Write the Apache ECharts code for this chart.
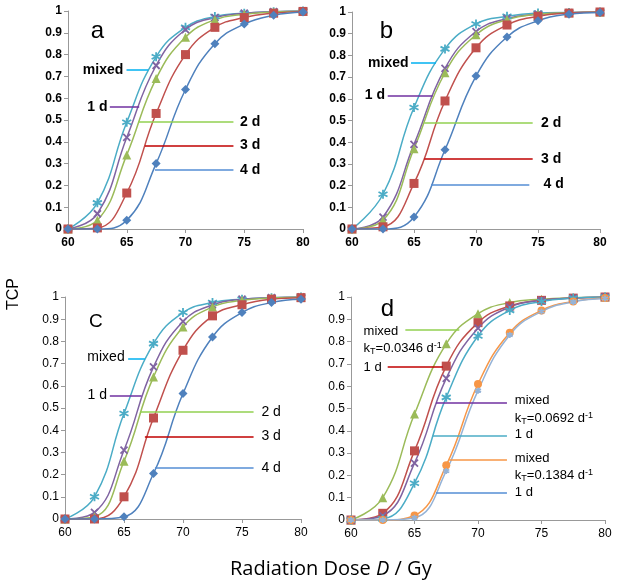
<!DOCTYPE html>
<html><head><meta charset="utf-8">
<script src="https://cdn.jsdelivr.net/npm/echarts@6/dist/echarts.min.js"></script>
<style>html,body{margin:0;padding:0;background:#fff}#c{width:626px;height:587px}</style>
</head><body><div id="c"></div>
<script>
const doses = [60, 62.5, 65, 67.5, 70, 72.5, 75, 77.5, 80];
const xTicks = [60, 65, 70, 75, 80];
const yTickLabels = ['0','0.1','0.2','0.3','0.4','0.5','0.6','0.7','0.8','0.9','1'];

// panel a
const aMixed = [0, 0.12, 0.49, 0.79, 0.925, 0.975, 0.99, 0.997, 1];
const a1d    = [0, 0.07, 0.42, 0.75, 0.915, 0.97, 0.99, 0.997, 1];
const a2d    = [0, 0.04, 0.34, 0.69, 0.88, 0.96, 0.985, 0.995, 1];
const a3d    = [0, 0.005, 0.165, 0.53, 0.80, 0.925, 0.97, 0.99, 0.998];
const a4d    = [0, 0, 0.04, 0.30, 0.64, 0.85, 0.94, 0.98, 0.995];
// panel b
const bMixed = [0, 0.16, 0.56, 0.83, 0.945, 0.98, 0.995, 0.998, 1];
const b1d    = [0, 0.055, 0.39, 0.74, 0.91, 0.97, 0.99, 0.997, 1];
const b2d    = [0, 0.04, 0.37, 0.72, 0.895, 0.965, 0.99, 0.997, 1];
const b3d    = [0, 0.01, 0.21, 0.59, 0.835, 0.94, 0.98, 0.995, 1];
const b4d    = [0, 0, 0.055, 0.365, 0.705, 0.885, 0.96, 0.99, 0.998];
// panel c
const cMixed = [0, 0.10, 0.475, 0.79, 0.93, 0.975, 0.99, 0.997, 1];
const c1d    = [0, 0.03, 0.31, 0.685, 0.89, 0.965, 0.99, 0.997, 1];
const c2d    = [0, 0.01, 0.26, 0.64, 0.865, 0.955, 0.985, 0.995, 1];
const c3d    = [0, 0, 0.10, 0.455, 0.76, 0.915, 0.965, 0.99, 0.997];
const c4d    = [0, 0, 0.01, 0.205, 0.565, 0.82, 0.93, 0.975, 0.99];
// panel d
const dMixedK1 = [0, 0.10, 0.475, 0.79, 0.925, 0.975, 0.99, 0.997, 1];
const d1dK1    = [0, 0.03, 0.31, 0.69, 0.885, 0.96, 0.985, 0.995, 1];
const dMixedK2 = [0, 0.02, 0.255, 0.635, 0.86, 0.955, 0.985, 0.995, 1];
const d1dK2    = [0, 0.005, 0.165, 0.55, 0.825, 0.94, 0.98, 0.995, 1];
const dMixedK3 = [0, 0, 0.02, 0.245, 0.61, 0.84, 0.94, 0.98, 0.995];
const d1dK3    = [0, 0, 0.01, 0.22, 0.58, 0.83, 0.935, 0.978, 0.993];

const FONT = 'Liberation Sans';
const STAR = 'path://M0,-1L0,1M-0.87,-0.5L0.87,0.5M0.87,-0.5L-0.87,0.5';
const XMARK = 'path://M-1,-1L1,1M1,-1L-1,1';

const grids = [
  {left: 68, top: 11, width: 235, height: 218},
  {left: 352, top: 12, width: 248, height: 217},
  {left: 65, top: 297, width: 236, height: 222},
  {left: 351, top: 297, width: 254, height: 223}
];

function mkSeries(gi, name, vals, color, symbol, size, stroke) {
  return {
    type: 'line', name, xAxisIndex: gi, yAxisIndex: gi,
    data: doses.map((x, i) => [x, vals[i]]),
    smooth: 0.45,
    symbol, symbolSize: size, showSymbol: true,
    lineStyle: {color, width: 1.5},
    itemStyle: stroke ? {color: 'rgba(0,0,0,0)', borderColor: color, borderWidth: 1.8} : {color},
    animation: false, z: 3
  };
}

function ann(gi, lines, texts) {
  return {
    type: 'line', xAxisIndex: gi, yAxisIndex: gi, data: [], silent: true, animation: false,
    markLine: {
      symbol: 'none', silent: true, animation: false, label: {show: false},
      data: lines.map(l => [{coord: [l[0], l[2]], lineStyle: {color: l[3], width: 1.5, type: 'solid'}}, {coord: [l[1], l[2]]}])
    },
    markPoint: {
      silent: true, animation: false, symbol: 'circle', symbolSize: 1,
      itemStyle: {color: 'rgba(0,0,0,0)'},
      data: texts.map(t => ({coord: [t[0], t[1]], label: Object.assign({
        show: true, position: t[3] || 'right', distance: 0, formatter: t[2],
        color: '#000', fontFamily: FONT
      }, t[4] || {})}))
    }
  };
}

const boldLbl = {fontSize: 14, fontWeight: 'bold'};
const letterLbl = {fontSize: 24, fontFamily: FONT};
const rich = {
  n: {fontSize: 13, fontFamily: FONT, color: '#000'},
  s: {fontSize: 9, fontFamily: FONT, color: '#000', padding: [6, 0, 0, 0]},
  p: {fontSize: 9, fontFamily: FONT, color: '#000', padding: [0, 0, 6, 0]}
};
const dLbl = {fontSize: 13};
function kt(v) { return '{n|k}{s|T}{n|=' + v + ' d}{p|-1}'; }

const xAxes = grids.map((g, i) => ({
  type: 'value', gridIndex: i, min: 60, max: 80, interval: 5,
  axisLine: {show: true, lineStyle: {color: '#999'}},
  axisTick: {show: true, inside: false, length: 4, lineStyle: {color: '#999'}},
  axisLabel: {color: '#000', fontSize: 12, fontFamily: FONT, fontWeight: i < 2 ? 'bold' : 'normal', margin: 8},
  splitLine: {show: false}
}));
const yAxes = grids.map((g, i) => ({
  type: 'value', gridIndex: i, min: 0, max: 1, interval: 0.1,
  axisLine: {show: true, lineStyle: {color: '#999'}},
  axisTick: {show: true, inside: false, length: 4, lineStyle: {color: '#999'}},
  axisLabel: {color: '#000', fontSize: 12, fontFamily: FONT, fontWeight: i < 2 ? 'bold' : 'normal', margin: 6,
    formatter: v => yTickLabels[Math.round(v * 10)]},
  splitLine: {show: false}
}));

const C = {blue: '#4F81BD', red: '#C0504D', green: '#9BBB59', purple: '#8064A2', aqua: '#4BACC6', orange: '#F79646', lblue: '#95B3D7'};
const L = {mixed: '#00B0F0', d1: '#7030A0', d2: '#92D050', d3: '#C00000', d4: '#558ED5'};

const series = [];
// panel a
series.push(mkSeries(0, 'mixed', aMixed, C.aqua, STAR, 9, true));
series.push(mkSeries(0, '1 d', a1d, C.purple, XMARK, 7, true));
series.push(mkSeries(0, '2 d', a2d, C.green, 'triangle', 9));
series.push(mkSeries(0, '3 d', a3d, C.red, 'rect', 9));
series.push(mkSeries(0, '4 d', a4d, C.blue, 'diamond', 9));
series.push(ann(0, [
  [64.98, 66.83, 0.729, L.mixed], [63.56, 66.06, 0.56, L.d1], [65.97, 74.08, 0.49, L.d2],
  [66.54, 74.08, 0.383, L.d3], [67.4, 74.08, 0.27, L.d4]
], [
  [64.75, 0.729, 'mixed', 'left', boldLbl], [63.4, 0.56, '1 d', 'left', boldLbl],
  [74.6, 0.49, '2 d', 'right', boldLbl], [74.6, 0.383, '3 d', 'right', boldLbl], [74.6, 0.27, '4 d', 'right', boldLbl],
  [61.9, 0.905, 'a', 'right', letterLbl]
]));
// panel b
series.push(mkSeries(1, 'mixed', bMixed, C.aqua, STAR, 9, true));
series.push(mkSeries(1, '1 d', b1d, C.purple, XMARK, 7, true));
series.push(mkSeries(1, '2 d', b2d, C.green, 'triangle', 9));
series.push(mkSeries(1, '3 d', b3d, C.red, 'rect', 9));
series.push(mkSeries(1, '4 d', b4d, C.blue, 'diamond', 9));
series.push(ann(1, [
  [64.76, 66.77, 0.765, L.mixed], [62.88, 66.5, 0.616, L.d1], [65.83, 74.57, 0.488, L.d2],
  [65.83, 74.57, 0.323, L.d3], [66.37, 74.3, 0.206, L.d4]
], [
  [64.6, 0.765, 'mixed', 'left', boldLbl], [62.7, 0.616, '1 d', 'left', boldLbl],
  [75.2, 0.488, '2 d', 'right', boldLbl], [75.2, 0.323, '3 d', 'right', boldLbl], [75.4, 0.206, '4 d', 'right', boldLbl],
  [62.2, 0.91, 'b', 'right', letterLbl]
]));
// panel c
series.push(mkSeries(2, 'mixed', cMixed, C.aqua, STAR, 9, true));
series.push(mkSeries(2, '1 d', c1d, C.purple, XMARK, 7, true));
series.push(mkSeries(2, '2 d', c2d, C.green, 'triangle', 9));
series.push(mkSeries(2, '3 d', c3d, C.red, 'rect', 9));
series.push(mkSeries(2, '4 d', c4d, C.blue, 'diamond', 9));
series.push(ann(2, [
  [65.35, 66.77, 0.72, L.mixed], [63.8, 66.49, 0.557, L.d1], [66.35, 75.98, 0.482, L.d2],
  [66.77, 75.98, 0.372, L.d3], [67.62, 75.98, 0.231, L.d4]
], [
  [65.1, 0.727, 'mixed', 'left', {fontSize: 14}], [63.6, 0.557, '1 d', 'left', {fontSize: 14}],
  [76.6, 0.482, '2 d', 'right', {fontSize: 14}], [76.6, 0.372, '3 d', 'right', {fontSize: 14}], [76.6, 0.231, '4 d', 'right', {fontSize: 14}],
  [62.0, 0.887, 'C', 'right', {fontSize: 19, fontFamily: FONT}]
]));
// panel d
series.push(mkSeries(3, 'mixed kT=0.0346', dMixedK1, C.green, 'triangle', 9));
series.push(mkSeries(3, '1 d kT=0.0346', d1dK1, C.red, 'rect', 9));
series.push(mkSeries(3, 'mixed kT=0.0692', dMixedK2, C.purple, XMARK, 7, true));
series.push(mkSeries(3, '1 d kT=0.0692', d1dK2, C.aqua, STAR, 9, true));
series.push(mkSeries(3, 'mixed kT=0.1384', dMixedK3, C.orange, 'circle', 8));
series.push(mkSeries(3, '1 d kT=0.1384', d1dK3, C.lblue, STAR, 6, true));
series.push(ann(3, [
  [64.28, 68.53, 0.853, L.d2], [62.89, 67.22, 0.686, L.d3],
  [66.69, 72.28, 0.524, L.d1], [66.43, 72.28, 0.377, '#4BACC6'],
  [67.74, 72.28, 0.269, '#F79646'], [66.69, 72.28, 0.123, '#558ED5']
], [
  [60.95, 0.846, 'mixed', 'right', dLbl], [60.95, 0.771, kt('0.0346'), 'right', {rich}],
  [60.95, 0.686, '1 d', 'right', dLbl],
  [72.86, 0.536, 'mixed', 'right', dLbl], [72.86, 0.457, kt('0.0692'), 'right', {rich}],
  [72.86, 0.382, '1 d', 'right', dLbl],
  [72.86, 0.277, 'mixed', 'right', dLbl], [72.86, 0.198, kt('0.1384'), 'right', {rich}],
  [72.86, 0.123, '1 d', 'right', dLbl],
  [62.3, 0.943, 'd', 'right', letterLbl]
]));

const chart = echarts.init(document.getElementById('c'), null, {renderer: 'canvas'});
chart.setOption({
  animation: false,
  backgroundColor: '#fff',
  grid: grids,
  xAxis: xAxes,
  yAxis: yAxes,
  series,
  graphic: [
    {type: 'text', x: 6, y: 310, rotation: Math.PI / 2,
      style: {text: 'TCP', font: '16px "Liberation Sans"', fill: '#000'}},
    {type: 'text', left: 230, top: 559,
      style: {
        text: '{r|Radiation Dose }{i|D}{r| / Gy}',
        rich: {r: {fontSize: 20, fontFamily: 'Open Sans', fill: '#000'}, i: {fontSize: 20, fontFamily: 'Open Sans', fontStyle: 'italic', fill: '#000'}}
      }}
  ]
});
</script></body></html>
